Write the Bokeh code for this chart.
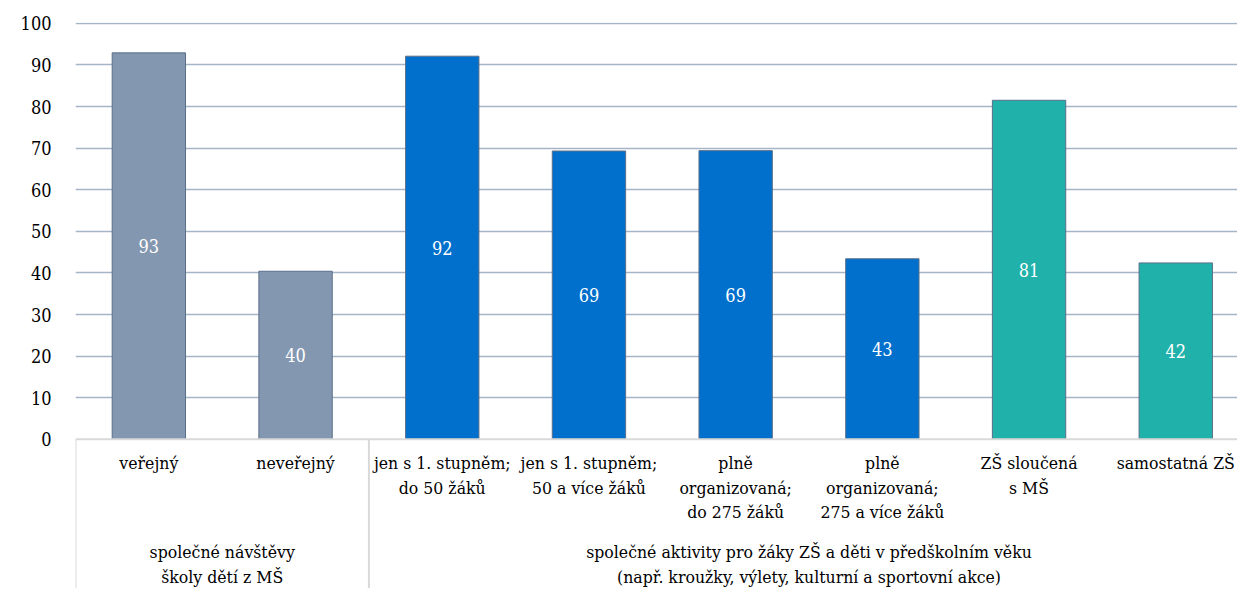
from bokeh.plotting import figure
from bokeh.models import ColumnDataSource, Range1d, FixedTicker
from bokeh.embed import file_html
from bokeh.resources import INLINE
from bokeh.core.properties import value

categories = ["veřejný", "neveřejný", "jen s 1. stupněm;\ndo 50 žáků",
              "jen s 1. stupněm;\n50 a více žáků", "plně\norganizovaná;\ndo 275 žáků",
              "plně\norganizovaná;\n275 a více žáků", "ZŠ sloučená\ns MŠ", "samostatná ZŠ"]
values = [92.9, 40.4, 92.1, 69.3, 69.4, 43.4, 81.5, 42.4]
value_labels = ["93", "40", "92", "69", "69", "43", "81", "42"]
colors = ["#8497B0", "#8497B0", "#0070CC", "#0070CC", "#0070CC", "#0070CC", "#20B2AA", "#20B2AA"]
groups = ["společné návštěvy\nškoly dětí z MŠ",
          "společné aktivity pro žáky ZŠ a děti v předškolním věku\n(např. kroužky, výlety, kulturní a sportovní akce)"]
group_sizes = [2, 6]
y_ticks = [0, 10, 20, 30, 40, 50, 60, 70, 80, 90, 100]

FONT = "DejaVu Serif Condensed"
px_per_unit_y = 4.16
W, H = 1237, 588
BL, BT = 75, 22
frame_h = H - BT
y_end = 100.2
y_start = y_end - frame_h / px_per_unit_y
cat_px = 146.7
x_end = (W - BL) / cat_px

p = figure(width=W, height=H, output_backend="svg", toolbar_location=None,
           x_range=Range1d(0, x_end), y_range=Range1d(y_start, y_end),
           min_border_left=BL, min_border_right=0, min_border_top=BT, min_border_bottom=0)
p.outline_line_color = None
p.xaxis.visible = False
p.xgrid.visible = False
p.yaxis.ticker = FixedTicker(ticks=y_ticks)
p.yaxis.axis_line_color = None
p.yaxis.major_tick_line_color = None
p.yaxis.minor_tick_line_color = None
p.yaxis.major_label_text_font = FONT
p.yaxis.major_label_text_font_size = "18px"
p.yaxis.major_label_text_color = "#000000"
p.yaxis.major_label_standoff = 18
p.ygrid.ticker = FixedTicker(ticks=y_ticks[1:])
p.ygrid.grid_line_color = "#A6B4C8"
p.ygrid.grid_line_width = 1.5

xs = [i + 0.5 for i in range(len(categories))]
src = ColumnDataSource(dict(x=xs, top=values, color=colors,
                            mid=[v / 2 for v in values], lab=value_labels, cat=categories))
p.vbar(x="x", top="top", bottom=0, width=0.5, fill_color="color", line_color="#5A6E8A",
       line_width=1, source=src)
p.text(x="x", y="mid", text="lab", source=src, text_color="white", text_align="center",
       text_baseline="middle", text_font=value(FONT), text_font_size="18px")

bounds = [0]
for s in group_sizes:
    bounds.append(bounds[-1] + s)
p.segment(x0=[0], y0=[0], x1=[x_end], y1=[0], line_color="#D9D9D9", line_width=2)
p.segment(x0=bounds[:-1], y0=[0] * len(group_sizes), x1=bounds[:-1], y1=[y_start] * len(group_sizes),
          line_color="#D9D9D9", line_width=2)

p.text(x="x", y=0, text="cat", source=src, text_color="black", text_align="center",
       text_baseline="top", text_font=value(FONT), text_font_size="17.5px",
       text_line_height=1.22, y_offset=14)

gx = [(bounds[i] + bounds[i + 1]) / 2 for i in range(len(group_sizes))]
p.text(x=gx, y=[0] * len(gx), text=groups, text_color="black", text_align="center",
       text_baseline="top", text_font=value(FONT), text_font_size="17.5px",
       text_line_height=1.22, y_offset=103)

open("out.html", "w").write(file_html(p, INLINE))
